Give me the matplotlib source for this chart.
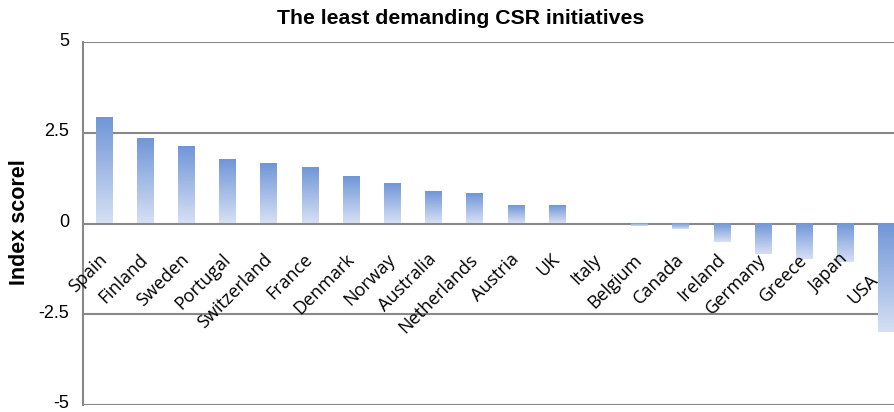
from matplotlib import pyplot as plt
from matplotlib.colors import LinearSegmentedColormap
from matplotlib.transforms import ScaledTranslation
import numpy as np

countries = ["Spain", "Finland", "Sweden", "Portugal", "Switzerland", "France",
             "Denmark", "Norway", "Australia", "Netherlands", "Austria", "UK",
             "Italy", "Belgium", "Canada", "Ireland", "Germany", "Greece",
             "Japan", "USA"]
scores = [2.91, 2.33, 2.10, 1.74, 1.63, 1.52, 1.29, 1.09, 0.86, 0.82,
          0.48, 0.48, 0.0, -0.06, -0.15, -0.51, -0.85, -0.97, -1.05, -2.98]
y_ticks = [5, 2.5, 0, -2.5, -5]
y_tick_labels = ["5", "2.5", "0", "-2.5", "-5"]


def main():
    fig = plt.figure(figsize=(8.95, 4.12), dpi=100)
    ax = fig.add_axes([83 / 895, 1 - 405 / 412, 1 - 83 / 895, (405 - 42) / 412])

    x = np.arange(len(countries))
    width = 0.41
    bars = ax.bar(x, scores, width=width, color="none", zorder=3)

    cmap = LinearSegmentedColormap.from_list("grad", ["#d6e0f4", "#7096d8"])
    grad = np.linspace(1, 0, 256).reshape(-1, 1)
    for bar in bars:
        x0 = bar.get_x()
        y0, y1 = sorted([bar.get_y(), bar.get_y() + bar.get_height()])
        if y1 - y0 <= 0:
            continue
        ax.imshow(grad, cmap=cmap, aspect="auto", extent=(x0, x0 + width, y0, y1),
                  zorder=3, interpolation="bilinear")

    ax.set_xlim(-0.51, 19.2)
    ax.set_ylim(-5, 5)
    ax.set_yticks(y_ticks)
    ax.set_yticklabels(y_tick_labels, fontsize=13, family="Liberation Sans")
    ax.tick_params(axis="y", length=0, pad=10)
    # nudge tick labels up a little, like the original
    shift = ScaledTranslation(0, 3 / 100, fig.dpi_scale_trans)
    for lbl in ax.get_yticklabels():
        lbl.set_transform(lbl.get_transform() + shift)
    ax.set_xticks([])
    ax.grid(axis="y", color="#888888", linewidth=1.5, zorder=1)
    for side in ["top", "right", "bottom"]:
        ax.spines[side].set_visible(False)
    ax.spines["left"].set_color("#888888")
    ax.spines["left"].set_linewidth(1.5)

    for i, name in enumerate(countries):
        dx, y = 0.0, -0.92
        if i == len(countries) - 1:
            # last label sits pushed in from the edge
            dx, y = -0.27, -1.47
        ax.text(i + dx, y, name, rotation=45, ha="right", va="center",
                rotation_mode="anchor", fontsize=13, family="Open Sans", zorder=4)

    fig.text(461 / 895, 1 - 19 / 412, "The least demanding CSR initiatives",
             ha="center", va="center", fontsize=15.3, fontweight="bold",
             family="Liberation Sans")
    fig.text(20 / 895, 1 - 222 / 412, "Index scorel", rotation=90, ha="center",
             va="center", fontsize=15.5, fontweight="bold", family="Liberation Sans")

    fig.savefig("out.png", dpi=100)


if __name__ == "__main__":
    main()
